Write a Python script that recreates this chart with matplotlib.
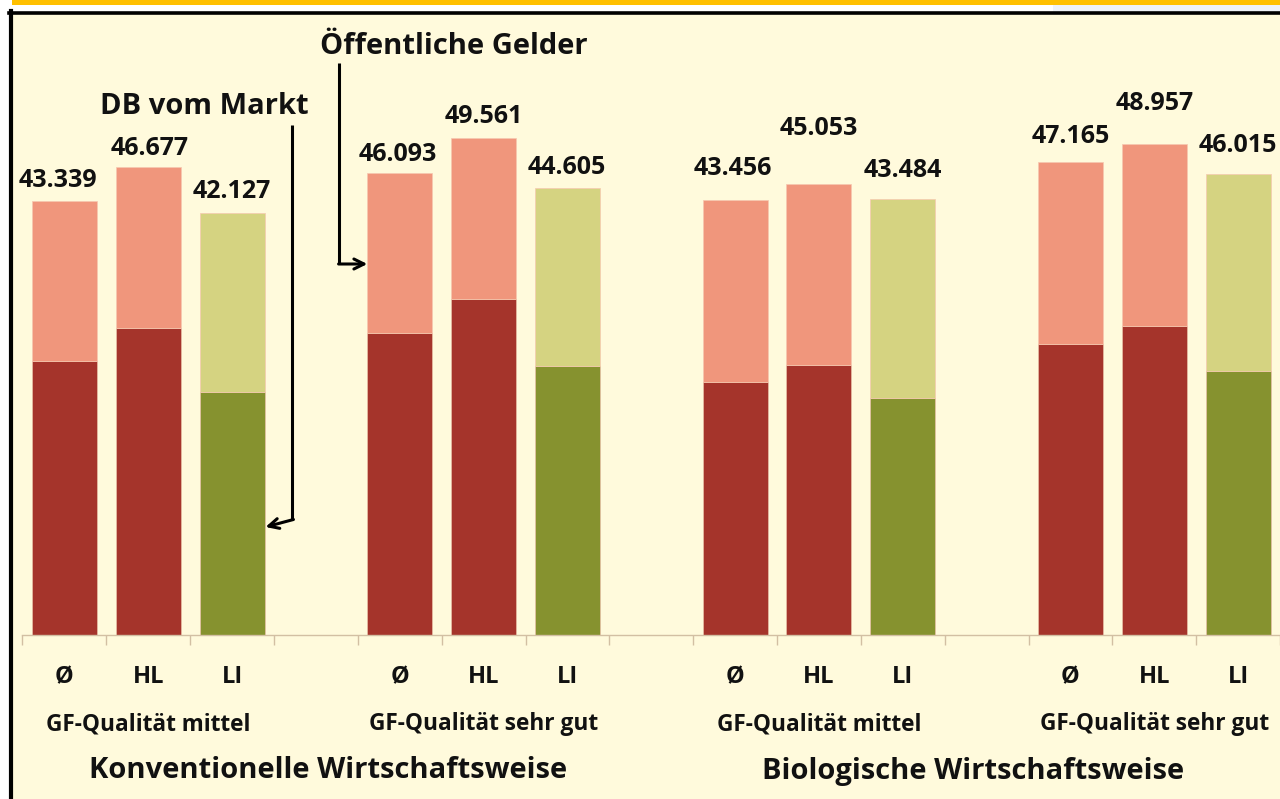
import numpy as np
import matplotlib
matplotlib.use("Agg")
import matplotlib.pyplot as plt
from matplotlib.patches import Rectangle
from matplotlib.lines import Line2D
import matplotlib.transforms as mtransforms

# Deckungsbeitrag je Variante (Euro), Gesamt und Anteil "vom Markt"
categories = ["Ø", "HL", "LI"] * 4
quality_groups = ["GF-Qualität mittel", "GF-Qualität sehr gut",
                  "GF-Qualität mittel", "GF-Qualität sehr gut"]
systems = ["Konventionelle Wirtschaftsweise", "Biologische Wirtschaftsweise"]
totals = [43339, 46677, 42127, 46093, 49561, 44605,
          43456, 45053, 43484, 47165, 48957, 46015]
db_markt = [27300, 30600, 24300, 30100, 33500, 26800,
            25200, 26900, 23700, 29000, 30800, 26300]

# label nudges in pixels (reference places them by hand)
label_dy = [20, 19, 21, 19, 22, 21, 31, 55, 29, 26, 41, 28]
label_dx = [-6, 1, 0, -2, 0, -1, -2, 0, 0, 0, 0, 0]

W, H = 1280, 799
C_BG = "#FFFADC"
C_RED = "#A5342B"
C_SALMON = "#F0967C"
C_GREEN = "#86922F"
C_OLIVE = "#D5D381"
C_AXIS = "#D2BFA3"
C_TXT = "#111111"
FONT = "Open Sans"

fig = plt.figure(figsize=(W / 100, H / 100), dpi=100, facecolor="white")


def fx(px):
    return px / W


def fy(py):
    return 1 - py / H


# frame decoration (behind the axes)
fig.add_artist(Rectangle((fx(1053), fy(12)), fx(W - 1053), 7 / H,
                         facecolor="#EEF2F8", edgecolor="none", zorder=-10))
fig.add_artist(Rectangle((fx(12), fy(5)), fx(W - 12), 5 / H,
                         facecolor="#FFC000", edgecolor="none", zorder=-10))
fig.add_artist(Rectangle((fx(11), 0), fx(W - 11), fy(12),
                         facecolor=C_BG, edgecolor="none", zorder=-10))
fig.add_artist(Line2D([fx(9), 1], [fy(12.5), fy(12.5)], color="black",
                      lw=2.6, zorder=-5))
fig.add_artist(Line2D([fx(11), fx(11)], [0, fy(11)], color="black",
                      lw=3.0, zorder=-5))

ax_left, ax_top, ax_bottom = 22.5, 13, 635
ax = fig.add_axes([fx(ax_left), fy(ax_bottom), 1 - fx(ax_left),
                   (ax_bottom - ax_top) / H])
ax.set_facecolor("none")

positions = []
for g in range(4):
    for i in range(3):
        positions.append(g * 4 + i)
positions = np.array(positions)

totals_a = np.array(totals)
markt_a = np.array(db_markt)
oeff_a = totals_a - markt_a

dark = [C_GREEN if c == "LI" else C_RED for c in categories]
light = [C_OLIVE if c == "LI" else C_SALMON for c in categories]
bw = 0.774
ax.bar(positions, markt_a, width=bw, color=dark, edgecolor="#E8C0A8",
       linewidth=0.5, zorder=2)
ax.bar(positions, oeff_a, bottom=markt_a, width=bw, color=light,
       edgecolor="#F6C8B0", linewidth=0.5, zorder=2)

px_per_unit = 0.01002
ymax = (ax_bottom - ax_top) / px_per_unit
ax.set_ylim(0, ymax)
ax.set_xlim(-0.5, (W - 64.5) / 84)

for spine in ["left", "right", "top"]:
    ax.spines[spine].set_visible(False)
ax.spines["bottom"].set_color(C_AXIS)
ax.spines["bottom"].set_linewidth(1.0)
ax.set_yticks([])
ax.set_xticks(np.arange(-0.5, 15, 1.0))
ax.tick_params(axis="x", direction="out", length=7.5, width=1.0,
               color=C_AXIS, labelbottom=False)

# value labels
for p, t, dy, dx in zip(positions, totals, label_dy, label_dx):
    txt = f"{t:,}".replace(",", ".")
    ax.annotate(txt, (p, t), xytext=(dx * 0.72, dy * 0.72),
                textcoords="offset points", ha="center", va="center",
                fontsize=18, fontweight="bold", family=FONT, color=C_TXT,
                annotation_clip=False)

trans = mtransforms.blended_transform_factory(ax.transData, ax.transAxes)
h_ax = ax_bottom - ax_top

for p, c in zip(positions, categories):
    ax.text(p, -(677 - ax_bottom) / h_ax, c, transform=trans, ha="center",
            va="center", fontsize=17, fontweight="bold", family=FONT,
            color=C_TXT)

for g, name in enumerate(quality_groups):
    ax.text(g * 4 + 1, -(724 - ax_bottom) / h_ax, name, transform=trans,
            ha="center", va="center", fontsize=16.3, fontweight="bold",
            family=FONT, color=C_TXT)

sys_x = [3.14, 10.84]
for x, name in zip(sys_x, systems):
    ax.text(x, -(771 - ax_bottom) / h_ax, name, transform=trans,
            ha="center", va="center", fontsize=21, fontweight="bold",
            family=FONT, color=C_TXT)


def ydat(py):
    return (ax_bottom - py) / px_per_unit


def xdat(px):
    return (px - 64.5) / 84


# annotations
ax.text(xdat(205), ydat(106), "DB vom Markt", ha="center", va="center",
        fontsize=21, fontweight="bold", family=FONT, color=C_TXT)
ax.plot([xdat(293), xdat(293)], [ydat(125), ydat(520)], color="black",
        lw=2.2, solid_capstyle="butt", clip_on=False)
ax.annotate("", xy=(xdat(266), ydat(527)), xytext=(xdat(294), ydat(519.5)),
            arrowprops=dict(arrowstyle="->", color="black", lw=2.2,
                            mutation_scale=18, shrinkA=0, shrinkB=0))

ax.text(xdat(455), ydat(46), "Öffentliche Gelder", ha="center", va="center",
        fontsize=21, fontweight="bold", family=FONT, color=C_TXT)
ax.plot([xdat(340), xdat(340)], [ydat(63), ydat(264)], color="black",
        lw=2.2, solid_capstyle="butt", clip_on=False)
ax.annotate("", xy=(xdat(368), ydat(264)), xytext=(xdat(339.2), ydat(264)),
            arrowprops=dict(arrowstyle="->", color="black", lw=2.2,
                            mutation_scale=18, shrinkA=0, shrinkB=0))

fig.savefig("out.png", dpi=100, facecolor=fig.get_facecolor())
